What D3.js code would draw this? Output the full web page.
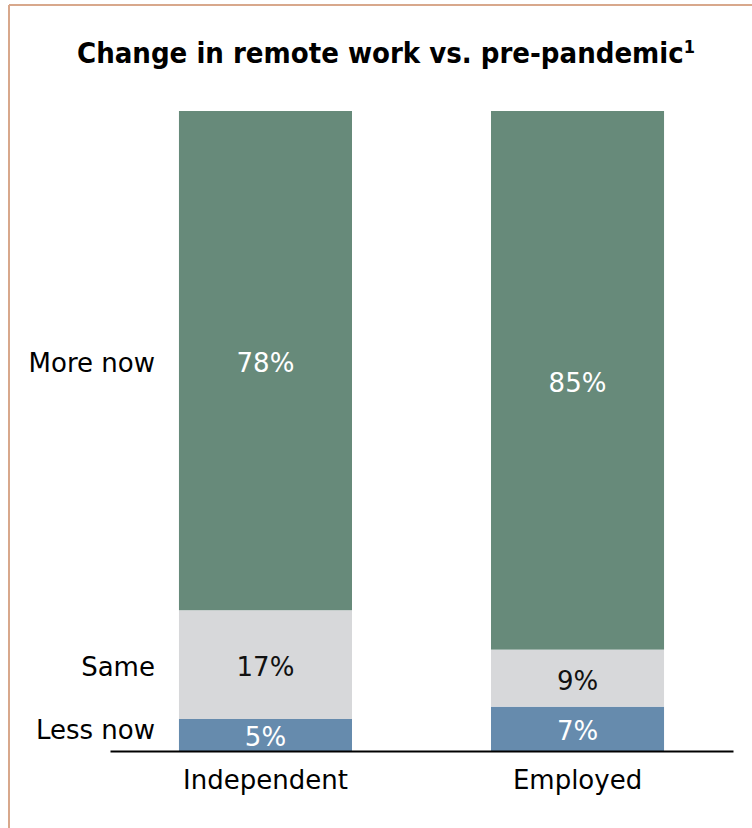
<!DOCTYPE html>
<html>
<head>
<meta charset="utf-8">
<script src="https://cdn.jsdelivr.net/npm/d3@7"></script>
<style>
  html, body { margin: 0; padding: 0; background: #fff; }
  svg { display: block; font-family: "DejaVu Sans", Verdana, sans-serif; }
</style>
</head>
<body>
<svg id="chart" width="752" height="828"></svg>
<script>
// Share of respondents by change in remote work, per worker type (percent)
const groups = ["Independent", "Employed"];
const responses = ["Less now", "Same", "More now"];
const lessNow = [5, 7];
const same = [17, 9];
const moreNow = [78, 85];

const colors = {
  "Less now": "#668bad",
  "Same": "#d7d8da",
  "More now": "#678a7a"
};
const labelColors = {
  "Less now": "#ffffff",
  "Same": "#111111",
  "More now": "#ffffff"
};

const rows = groups.map((g, i) => ({
  group: g,
  "Less now": lessNow[i],
  "Same": same[i],
  "More now": moreNow[i]
}));

const svg = d3.select("#chart");
const W = 752, H = 828;

// frame: top and left rule
svg.append("line").attr("x1", 9).attr("x2", W).attr("y1", 5).attr("y2", 5)
  .attr("stroke", "#d8a88c").attr("stroke-width", 2);
svg.append("line").attr("x1", 9).attr("x2", 9).attr("y1", 5).attr("y2", H)
  .attr("stroke", "#d8a88c").attr("stroke-width", 2);

// title
const title = svg.append("text")
  .attr("x", 386).attr("y", 63)
  .attr("text-anchor", "middle")
  .attr("font-family", "'DejaVu Sans Condensed', 'DejaVu Sans', sans-serif")
  .attr("font-size", 29).attr("font-weight", "bold").attr("fill", "#000");
title.append("tspan").text("Change in remote work vs. pre-pandemic");
title.append("tspan").attr("font-size", 18).attr("dy", -10).text("1");

const plotBottom = 751, plotTop = 111;

const x = d3.scaleBand()
  .domain(groups)
  .range([110, 733])
  .paddingInner(0.4455)
  .paddingOuter(0.221);

const y = d3.scaleLinear().domain([0, 1]).range([plotBottom, plotTop]);

const stack = d3.stack().keys(responses).offset(d3.stackOffsetExpand);
const series = stack(rows);

const layer = svg.append("g").selectAll("g")
  .data(series).join("g")
  .attr("fill", s => colors[s.key]);

layer.selectAll("rect")
  .data(s => s.map(d => Object.assign(d, { key: s.key })))
  .join("rect")
  .attr("x", d => x(d.data.group))
  .attr("width", x.bandwidth())
  .attr("y", d => y(d[1]))
  .attr("height", d => y(d[0]) - y(d[1]));

// value labels in the middle of each segment
const fontSize = 26;
const capHalf = fontSize * 0.729 / 2;
layer.selectAll("text")
  .data(s => s)
  .join("text")
  .attr("x", d => x(d.data.group) + x.bandwidth() / 2)
  .attr("y", d => (y(d[0]) + y(d[1])) / 2 + capHalf + 2)
  .attr("text-anchor", "middle")
  .attr("font-size", fontSize)
  .attr("fill", d => labelColors[d.key])
  .text(d => d.data[d.key] + "%");

// response labels beside the first bar, kept clear of the axis line
const first = series.map(s => ({ key: s.key, d: s[0] }));
svg.append("g").selectAll("text")
  .data(first).join("text")
  .attr("x", x(groups[0]) - 24)
  .attr("y", r => Math.min((y(r.d[0]) + y(r.d[1])) / 2 + capHalf + 2, plotBottom - 12))
  .attr("text-anchor", "end")
  .attr("font-size", fontSize)
  .attr("fill", "#000")
  .text(r => r.key);

// category axis
const axis = svg.append("g")
  .attr("transform", `translate(0,${plotBottom})`)
  .call(d3.axisBottom(x).tickSize(0).tickPadding(19.5));
axis.select(".domain").attr("stroke", "#000").attr("stroke-width", 2);
axis.selectAll("text")
  .attr("font-size", fontSize)
  .attr("font-family", "DejaVu Sans, Verdana, sans-serif")
  .attr("fill", "#000");
</script>
</body>
</html>
